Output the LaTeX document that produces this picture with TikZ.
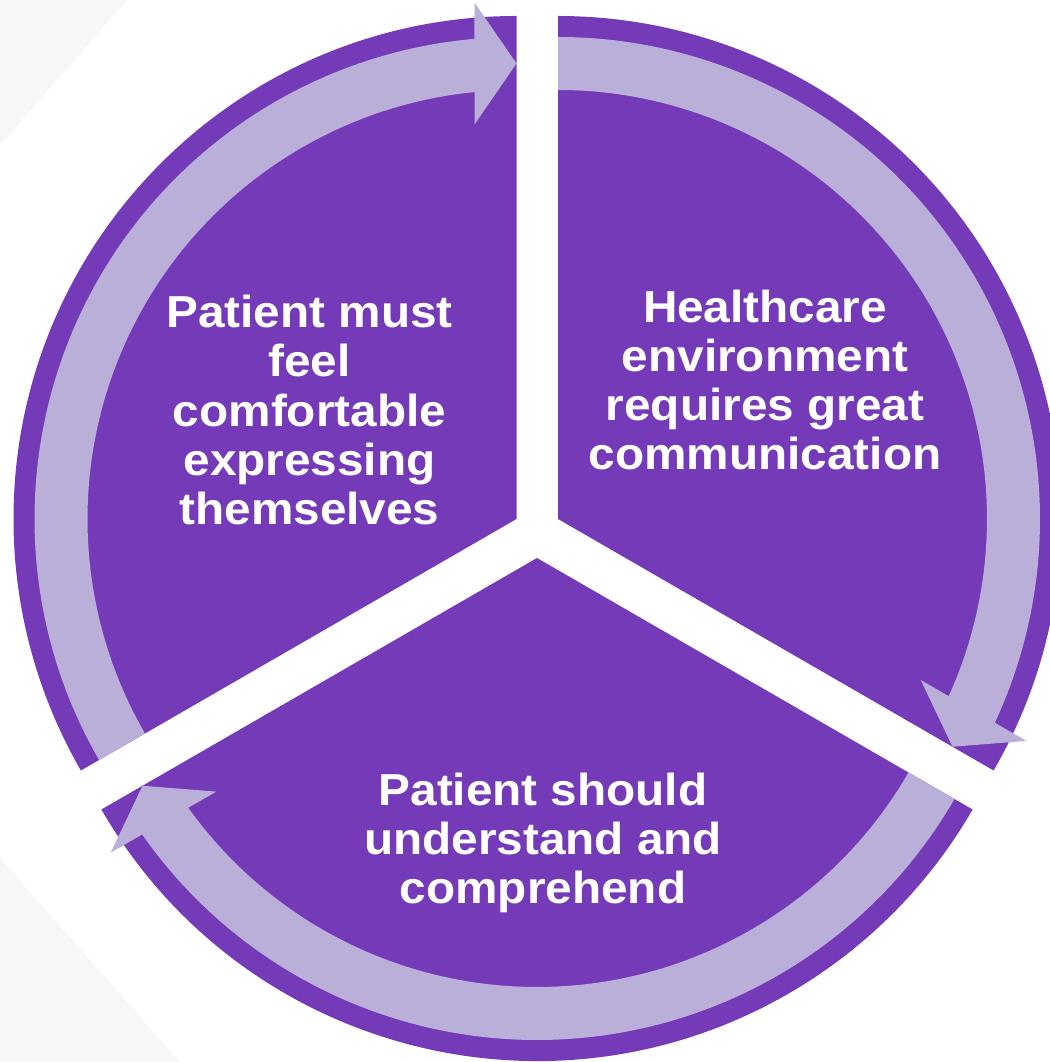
\documentclass[tikz,border=0pt]{standalone}
\usepackage{fontspec}
\setmainfont[FakeStretch=1.065]{Liberation Sans}
\usetikzlibrary{calc}
\definecolor{segpurple}{RGB}{116,58,184}
\definecolor{segband}{RGB}{186,175,217}
\definecolor{bggrey}{RGB}{248,247,245}

\begin{document}
\begin{tikzpicture}[x=0.02cm,y=0.02cm,
  seglabel/.style={text=white,font=\bfseries\fontsize{25.5}{27.9}\selectfont,align=center,inner sep=0pt}]
\clip (0,0) rectangle (1050,1062);
\fill[white] (0,0) rectangle (1050,1062);
\fill[bggrey] (0,1062) -- (127,1062) -- (0,917) -- cycle;
\fill[bggrey] (0,0) -- (180,0) -- (0,204) -- cycle;
\coordinate (cL) at (516.5,543);
\coordinate (cR) at (558,543);
\coordinate (cB) at (537,504);
\foreach \ctr/\ang in {cL/90,cR/-30,cB/210}{
  \fill[segpurple] (\ctr) -- ($(\ctr)+(\ang:503)$) arc[start angle=\ang, delta angle=120, radius=503] -- cycle;
  \coordinate (tip) at ($(\ctr)+(\ang:455.5)$);
  \coordinate (base) at ($(tip)+({\ang+90}:42)$);
  \fill[segband] ($(\ctr)+({\ang+120}:482)$) arc[start angle=\ang+120, end angle=\ang+5, radius=482]
    -- ($(base)+(\ang:61)$) -- (tip) -- ($(base)+({\ang+180}:61)$)
    -- ($(\ctr)+({\ang+5.6}:429)$) arc[start angle=\ang+5.6, end angle=\ang+120, radius=429] -- cycle;
}
\node[seglabel] (feel) at (309.5,652) {Patient must\\feel\\comfortable\\expressing\\themselves};
\node[seglabel] (care) at (765,682) {Healthcare\\environment\\requires great\\communication};
\node[seglabel] (grasp) at (543,219) {Patient should\\understand and\\comprehend};
\end{tikzpicture}
\end{document}
